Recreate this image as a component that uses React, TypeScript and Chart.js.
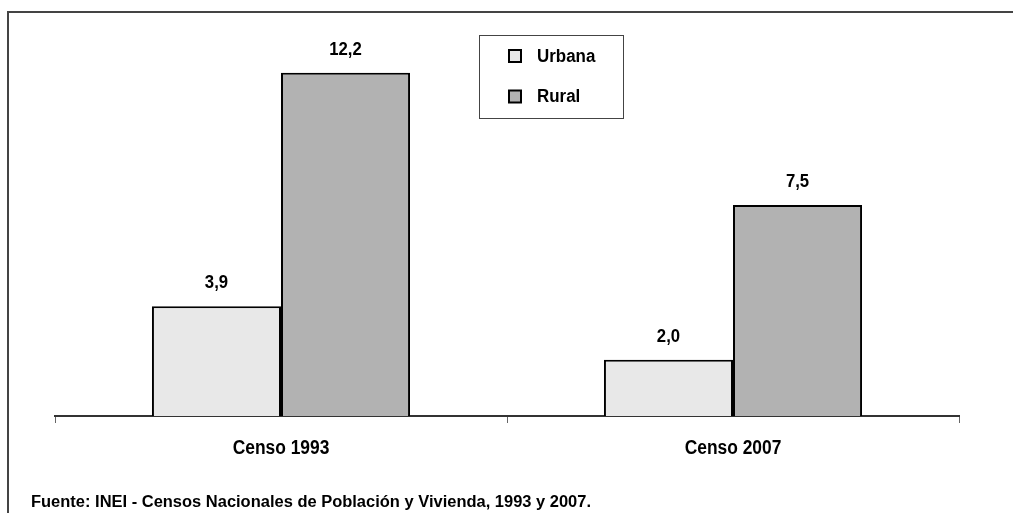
import React, { useEffect, useRef } from "react";
import { Chart, registerables } from "chart.js";

Chart.register(...registerables);

const categories = ["Censo 1993", "Censo 2007"];
const urbana = [3.9, 2.0];
const rural = [12.2, 7.5];
const seriesNames = ["Urbana", "Rural"];
const sourceNote = "Fuente: INEI - Censos Nacionales de Población y Vivienda, 1993 y 2007.";

const FONT = "'Liberation Sans', Arial, sans-serif";
const URB_COLOR = "#e8e8e8";
const RUR_COLOR = "#b2b2b2";

const fmt = (v: number) => v.toFixed(1).replace(".", ",");

// draw text horizontally condensed (reference uses a narrow face)
function drawText(
  ctx: CanvasRenderingContext2D,
  text: string,
  x: number,
  y: number,
  font: string,
  sx: number,
  align: CanvasTextAlign,
  baseline: CanvasTextBaseline
) {
  ctx.save();
  ctx.font = font;
  ctx.textAlign = align;
  ctx.textBaseline = baseline;
  ctx.fillStyle = "#000";
  ctx.translate(x, y);
  ctx.scale(sx, 1);
  ctx.fillText(text, 0, 0);
  ctx.restore();
}

const decorPlugin = {
  id: "decor",
  beforeDraw(chart: any) {
    const ctx = chart.ctx;
    ctx.save();
    ctx.strokeStyle = "#444";
    ctx.lineWidth = 2;
    ctx.beginPath();
    ctx.moveTo(8, 513);
    ctx.lineTo(8, 12);
    ctx.lineTo(1013, 12);
    ctx.stroke();
    ctx.restore();
  },
  afterDatasetsDraw(chart: any) {
    const ctx = chart.ctx;
    chart.data.datasets.forEach((ds: any, di: number) => {
      const meta = chart.getDatasetMeta(di);
      meta.data.forEach((bar: any, i: number) => {
        drawText(ctx, fmt(ds.data[i]), bar.x, bar.y - 23, `bold 18px ${FONT}`, 0.93, "center", "middle");
      });
    });
  },
  afterDraw(chart: any) {
    const ctx = chart.ctx;
    // category labels under the axis
    const xs = chart.scales.x;
    chart.data.labels.forEach((lab: string, i: number) => {
      drawText(ctx, lab, xs.getPixelForTick(i), chart.chartArea.bottom + 32, `bold 20px ${FONT}`, 0.87, "center", "middle");
    });
    ctx.save();
    // legend box
    ctx.fillStyle = "#fff";
    ctx.fillRect(479.5, 35.5, 144, 83);
    ctx.strokeStyle = "#444";
    ctx.lineWidth = 1;
    ctx.strokeRect(479.5, 35.5, 144, 83);
    ctx.restore();
    const rows = [
      { y: 56, ds: chart.data.datasets[0] },
      { y: 96.5, ds: chart.data.datasets[1] },
    ];
    rows.forEach((r) => {
      ctx.save();
      ctx.fillStyle = r.ds.backgroundColor;
      ctx.fillRect(509, r.y - 6, 12, 12);
      ctx.strokeStyle = "#000";
      ctx.lineWidth = 2;
      ctx.strokeRect(509, r.y - 6, 12, 12);
      ctx.restore();
      drawText(ctx, r.ds.label, 537, r.y + 1, `bold 18px ${FONT}`, 0.94, "left", "middle");
    });
    // source note, fitted to the reference width
    const noteFont = `bold 16px ${FONT}`;
    ctx.save();
    ctx.font = noteFont;
    const w = ctx.measureText(sourceNote).width;
    ctx.restore();
    drawText(ctx, sourceNote, 31, 507, noteFont, 560 / w, "left", "alphabetic");
  },
};

export default function App() {
  const ref = useRef<HTMLCanvasElement>(null);
  useEffect(() => {
    if (!ref.current) return;
    const chart = new Chart(ref.current, {
      type: "bar",
      data: {
        labels: categories,
        datasets: [
          {
            label: seriesNames[0],
            data: urbana,
            backgroundColor: URB_COLOR,
            borderColor: "#000",
            borderWidth: 2,
            categoryPercentage: 0.571,
            barPercentage: 1,
          },
          {
            label: seriesNames[1],
            data: rural,
            backgroundColor: RUR_COLOR,
            borderColor: "#000",
            borderWidth: 2,
            categoryPercentage: 0.571,
            barPercentage: 1,
          },
        ],
      },
      options: {
        animation: false,
        responsive: false,
        maintainAspectRatio: false,
        layout: { padding: { left: 55, right: 54, top: 22, bottom: 37 } },
        plugins: { legend: { display: false }, tooltip: { enabled: false } },
        scales: {
          y: { display: false, min: 0, max: 14 },
          x: {
            afterFit: (s: any) => {
              s.height = 60;
            },
            grid: {
              offset: true,
              drawOnChartArea: false,
              drawTicks: true,
              tickLength: 7,
              color: "#666",
              lineWidth: 1,
            },
            border: { display: true, color: "#333", width: 2 },
            ticks: { display: false },
          },
        },
      },
      plugins: [decorPlugin],
    });
    return () => chart.destroy();
  }, []);
  return (
    <div style={{ position: "fixed", left: 0, top: 0, width: 1013, height: 513, background: "#fff" }}>
      <canvas ref={ref} width={1013} height={513} style={{ display: "block", width: 1013, height: 513 }} />
    </div>
  );
}
